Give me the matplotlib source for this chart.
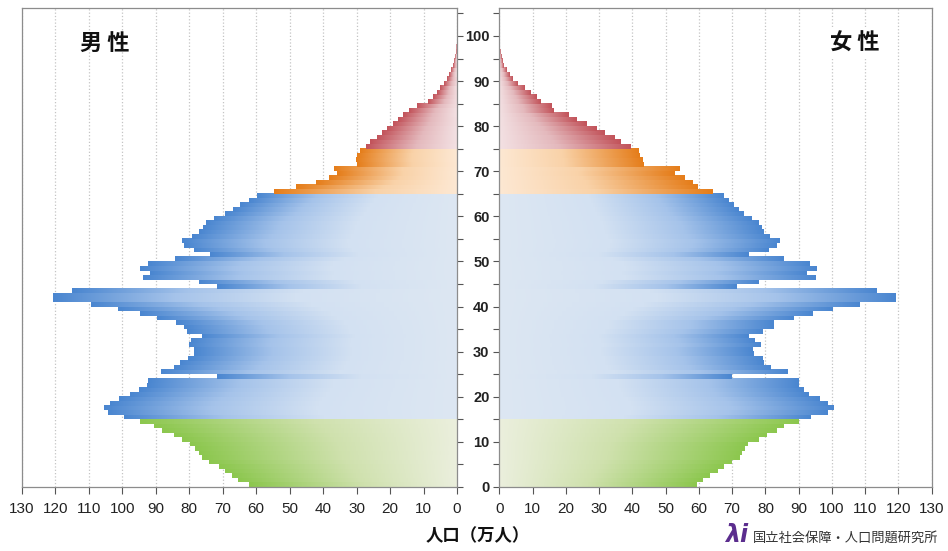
import numpy as np
import matplotlib
matplotlib.use('Agg')
import matplotlib.pyplot as plt
from matplotlib.colors import LinearSegmentedColormap
from matplotlib.ticker import MultipleLocator
from matplotlib import font_manager

# === Data (population, 10k persons, by single year of age) ===
male_0_14 = [62.3, 65.3, 67.2, 69.2, 71.2, 74.2, 76.2, 77.2, 78.2, 79.9,
             82.2, 84.7, 88.2, 90.7, 94.6]
male_15_64 = [99.5, 104.3, 105.6, 103.8, 101.1, 97.6, 94.9, 92.7, 92.2, 71.6,
              88.6, 84.5, 82.7, 80.5, 78.5, 78.5, 80.2, 79.5, 76.2, 80.7,
              81.5, 83.9, 89.6, 94.8, 101.2, 109.5, 120.6, 120.6, 115.0, 71.7,
              77.2, 93.9, 91.7, 94.7, 92.2, 84.2, 73.7, 78.7, 81.5, 82.2,
              79.2, 77.0, 75.8, 75.0, 72.7, 69.2, 66.8, 64.8, 62.3, 59.8]
male_65_74 = [54.8, 48.0, 42.1, 38.4, 35.8, 36.9, 30.0, 30.1, 29.8, 28.9]
male_75_up = [27.1, 26.1, 23.9, 22.4, 20.9, 19.2, 17.7, 16.0, 14.2, 12.0,
              8.8, 7.2, 6.0, 5.0, 4.0, 3.0, 2.3, 1.7, 1.2, 0.8,
              0.5, 0.35, 0.2, 0.12, 0.07]

female_0_14 = [59.5, 61.3, 63.4, 65.6, 67.6, 69.9, 72.3, 72.9, 73.8, 74.8,
               78.0, 80.5, 83.5, 85.6, 89.9]
female_15_64 = [93.8, 98.9, 100.6, 98.9, 96.5, 93.2, 91.4, 89.9, 89.9, 69.9,
                86.7, 81.5, 79.5, 79.2, 76.6, 76.2, 78.6, 76.9, 74.9, 79.2,
                82.6, 82.6, 88.6, 94.4, 100.4, 108.4, 119.3, 119.3, 113.4, 71.4,
                77.9, 95.2, 92.5, 95.4, 93.4, 85.5, 74.9, 80.9, 83.4, 84.4,
                81.4, 79.4, 78.9, 77.9, 75.9, 73.4, 71.9, 70.4, 68.9, 67.4]
female_65_74 = [64.3, 59.8, 58.1, 55.8, 52.8, 54.3, 43.3, 43.0, 42.3, 42.0]
female_75_up = [39.6, 36.5, 34.8, 31.8, 29.3, 26.3, 23.3, 20.8, 16.5, 15.8,
                12.4, 11.2, 9.5, 7.7, 5.7, 4.2, 3.2, 2.2, 1.5, 1.0,
                0.7, 0.5, 0.3, 0.2, 0.1, 0.05]

male_groups = [male_0_14, male_15_64, male_65_74, male_75_up]
female_groups = [female_0_14, female_15_64, female_65_74, female_75_up]
group_start = [0, 15, 65, 75]

x_ticks = list(range(0, 131, 10))
age_ticks = list(range(0, 101, 10))

# === Style ===
names = {f.name for f in font_manager.fontManager.ttflist}
num_font = 'Liberation Sans Narrow' if 'Liberation Sans Narrow' in names else 'Liberation Sans'
jp_font = ['Noto Sans CJK JP', 'DejaVu Sans']

cmaps = [
    LinearSegmentedColormap.from_list('g', [(0, '#ebefdd'), (0.45, '#cfe1ad'), (1, '#8cc74e')]),
    LinearSegmentedColormap.from_list('b', [(0, '#dde7f3'), (0.4, '#d3e1f2'), (0.7, '#a5c3ea'), (1, '#4a86d0')]),
    LinearSegmentedColormap.from_list('o', [(0, '#fde8d3'), (0.45, '#f9d2a8'), (1, '#e57d1a')]),
    LinearSegmentedColormap.from_list('r', [(0, '#f3e1e3'), (0.45, '#e4b9bd'), (1, '#c2535a')]),
]
spine_col = '#8c8c8c'

W, H = 948, 551
fig = plt.figure(figsize=(W / 100, H / 100), dpi=100)
ax_m = fig.add_axes([22 / W, 64 / H, 435 / W, 479 / H])
ax_f = fig.add_axes([499.3 / W, 64 / H, 432.4 / W, 479 / H])

grad = np.linspace(0, 1, 256)[None, :]


def draw_side(ax, groups):
    for start, vals, cmap in zip(group_start, groups, cmaps):
        for i, v in enumerate(vals):
            age = start + i
            ax.imshow(grad, cmap=cmap, extent=(0, v, age, age + 1), origin='lower',
                      aspect='auto', interpolation='bilinear', zorder=2)


draw_side(ax_m, male_groups)
draw_side(ax_f, female_groups)

for ax in (ax_m, ax_f):
    ax.set_ylim(0, 106.2)
    ax.set_xticks(x_ticks)
    ax.xaxis.grid(True, linestyle=':', color='#c4c4c4', linewidth=0.9, zorder=0)
    ax.set_axisbelow(True)
    for s in ax.spines.values():
        s.set_color(spine_col)
        s.set_linewidth(0.9)
    ax.tick_params(axis='x', direction='out', length=5, width=0.8, color='#555555',
                   labelsize=11, labelcolor='#222222', pad=6)
    for lab in ax.get_xticklabels():
        lab.set_fontfamily(num_font)
    ax.yaxis.set_major_locator(MultipleLocator(10))
    ax.yaxis.set_minor_locator(MultipleLocator(5))
    ax.tick_params(axis='y', which='both', direction='out', length=4, width=0.8, color='#555555')

ax_m.set_xlim(130, 0)
ax_f.set_xlim(0, 130)

ax_m.yaxis.tick_right()
ax_m.tick_params(axis='y', which='both', labelright=False)

ax_f.set_yticks(age_ticks)
ax_f.set_yticklabels([str(a) for a in age_ticks], fontfamily='Liberation Sans',
                     fontweight='bold', fontsize=10.5, color='#222222')
ax_f.tick_params(axis='y', which='major', pad=3)

# titles
fig.text(105 / W, 1 - 43 / H, '男 性', family=jp_font, fontsize=16, fontweight='bold',
         ha='center', va='center', color='#111111')
fig.text(855 / W, 1 - 43 / H, '女 性', family=jp_font, fontsize=16, fontweight='bold',
         ha='center', va='center', color='#111111',
         bbox=dict(facecolor='white', edgecolor='none', pad=3))

# x label
fig.text(478 / W, 1 - 536 / H, '人口（万人）', family=jp_font, fontsize=12.5,
         fontweight='bold', ha='center', va='center', color='#111111')

# logo
fig.text(737 / W, 1 - 535 / H, 'λi', family=['DejaVu Sans'], fontsize=17,
         fontweight='bold', style='italic', ha='center', va='center', color='#5b2d8e')
fig.text(846 / W, 1 - 538 / H, '国立社会保障・人口問題研究所', family=jp_font, fontsize=9.5,
         ha='center', va='center', color='#333333')

fig.savefig('out.png', dpi=100)
